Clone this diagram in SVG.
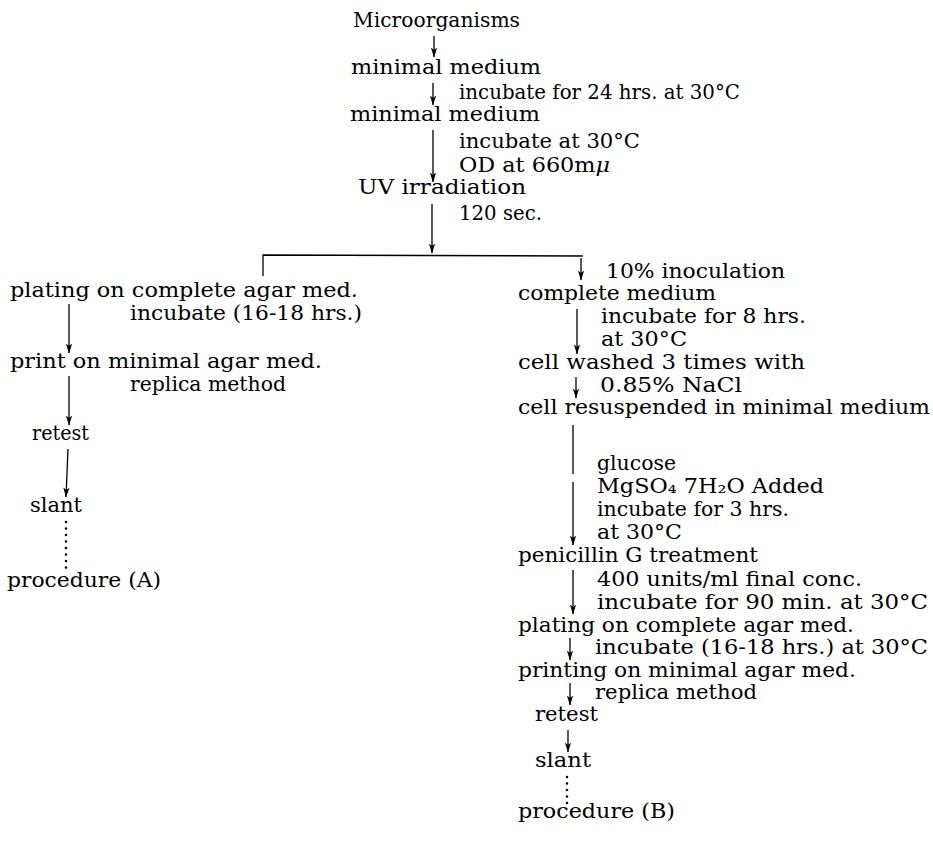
<svg xmlns="http://www.w3.org/2000/svg" width="933" height="845" viewBox="0 0 933 845">
<defs>
<marker id="ah" viewBox="0 0 10 8" refX="9.5" refY="4" markerWidth="10" markerHeight="8" markerUnits="userSpaceOnUse" orient="auto">
<path d="M0,0.9 L10,4 L0,7.1 L2.5,4 Z" fill="#000"/>
</marker>
<style>
text{font-family:"DejaVu Serif","Liberation Serif",serif;font-size:21px;fill:#000}
.ln{stroke:#000;stroke-width:1.3;fill:none}
.arr{stroke:#000;stroke-width:1.3;fill:none;marker-end:url(#ah)}
.dot{stroke:#000;stroke-width:2.6;stroke-linecap:round;stroke-dasharray:0 6.5;fill:none}
</style>
</defs>
<rect width="933" height="845" fill="#fff"/>
<g id="connectors">
<line class="arr" x1="434" y1="36" x2="434" y2="57"/>
<line class="arr" x1="433" y1="83" x2="433" y2="105"/>
<line class="arr" x1="433" y1="130" x2="433" y2="182"/>
<line class="arr" x1="432" y1="204" x2="432" y2="253"/>
<polyline class="ln" points="263,276 263,255 583,256"/>
<line class="arr" x1="581" y1="258" x2="581" y2="280"/>
<line class="arr" x1="69" y1="304" x2="69" y2="353"/>
<line class="arr" x1="69" y1="376" x2="69" y2="425"/>
<line class="arr" x1="68" y1="449" x2="66" y2="497"/>
<line class="dot" x1="66" y1="522" x2="66" y2="570"/>
<line class="arr" x1="577" y1="309" x2="577" y2="354"/>
<line class="arr" x1="576" y1="377" x2="576" y2="398"/>
<line class="ln" x1="573" y1="425" x2="573" y2="474"/>
<line class="arr" x1="573" y1="482" x2="573" y2="545"/>
<line class="arr" x1="573" y1="570" x2="573" y2="614"/>
<line class="arr" x1="570" y1="638" x2="570" y2="660"/>
<line class="arr" x1="570" y1="683" x2="570" y2="705"/>
<line class="arr" x1="568" y1="730" x2="568" y2="752"/>
<line class="dot" x1="567" y1="777" x2="567" y2="804"/>
</g>
<g id="n-microorganisms"><text x="353" y="27" textLength="167" lengthAdjust="spacingAndGlyphs">Microorganisms</text></g>
<g id="n-minimal1"><text x="351" y="74" textLength="190" lengthAdjust="spacingAndGlyphs">minimal  medium</text></g>
<g id="l-incubate24"><text x="459" y="99" textLength="281" lengthAdjust="spacingAndGlyphs">incubate for 24 hrs. at 30°C</text></g>
<g id="n-minimal2"><text x="350" y="121" textLength="190" lengthAdjust="spacingAndGlyphs">minimal  medium</text></g>
<g id="l-od"><text x="459" y="148" textLength="181" lengthAdjust="spacingAndGlyphs">incubate at 30°C</text>
<text x="459" y="172" textLength="151" lengthAdjust="spacingAndGlyphs">OD at 660m<tspan font-style="italic">μ</tspan></text></g>
<g id="n-uv"><text x="358" y="194" textLength="168" lengthAdjust="spacingAndGlyphs">UV  irradiation</text></g>
<g id="l-120"><text x="459" y="220" textLength="83" lengthAdjust="spacingAndGlyphs">120  sec.</text></g>
<g id="a-plating"><text x="10" y="297" textLength="348" lengthAdjust="spacingAndGlyphs">plating on complete agar  med.</text>
<text x="130" y="320" textLength="232" lengthAdjust="spacingAndGlyphs">incubate (16-18 hrs.)</text></g>
<g id="a-print"><text x="10" y="368" textLength="312" lengthAdjust="spacingAndGlyphs">print on minimal agar med.</text>
<text x="130" y="391" textLength="156" lengthAdjust="spacingAndGlyphs">replica  method</text></g>
<g id="a-retest"><text x="32" y="440" textLength="57" lengthAdjust="spacingAndGlyphs">retest</text></g>
<g id="a-slant"><text x="30" y="512" textLength="52" lengthAdjust="spacingAndGlyphs">slant</text></g>
<g id="a-procedure"><text x="7" y="587" textLength="154" lengthAdjust="spacingAndGlyphs">procedure (A)</text></g>
<g id="l-inoc"><text x="606" y="278" textLength="179" lengthAdjust="spacingAndGlyphs">10%  inoculation</text></g>
<g id="b-complete"><text x="518" y="300" textLength="198" lengthAdjust="spacingAndGlyphs">complete  medium</text></g>
<g id="l-inc8"><text x="601" y="323" textLength="205" lengthAdjust="spacingAndGlyphs">incubate for 8 hrs.</text>
<text x="601" y="346" textLength="86" lengthAdjust="spacingAndGlyphs">at 30°C</text></g>
<g id="b-washed"><text x="518" y="369" textLength="287" lengthAdjust="spacingAndGlyphs">cell washed 3  times with</text></g>
<g id="l-nacl"><text x="600" y="392" textLength="142" lengthAdjust="spacingAndGlyphs">0.85%  NaCl</text></g>
<g id="b-resusp"><text x="518" y="414" textLength="412" lengthAdjust="spacingAndGlyphs">cell resuspended in minimal  medium</text></g>
<g id="l-glucose"><text x="597" y="470" textLength="79" lengthAdjust="spacingAndGlyphs">glucose</text>
<text x="597" y="493" textLength="227" lengthAdjust="spacingAndGlyphs">MgSO₄ 7H₂O  Added</text>
<text x="597" y="516" textLength="192" lengthAdjust="spacingAndGlyphs">incubate  for 3 hrs.</text>
<text x="597" y="539" textLength="85" lengthAdjust="spacingAndGlyphs">at 30°C</text></g>
<g id="b-penicillin"><text x="518" y="562" textLength="240" lengthAdjust="spacingAndGlyphs">penicillin  G treatment</text></g>
<g id="l-400"><text x="597" y="586" textLength="265" lengthAdjust="spacingAndGlyphs">400 units/ml final conc.</text>
<text x="597" y="609" textLength="331" lengthAdjust="spacingAndGlyphs">incubate for 90  min. at 30°C</text></g>
<g id="b-plating"><text x="518" y="632" textLength="336" lengthAdjust="spacingAndGlyphs">plating  on  complete agar med.</text></g>
<g id="l-inc1618"><text x="595" y="654" textLength="333" lengthAdjust="spacingAndGlyphs">incubate (16-18 hrs.) at 30°C</text></g>
<g id="b-printing"><text x="518" y="677" textLength="338" lengthAdjust="spacingAndGlyphs">printing on minimal agar med.</text></g>
<g id="l-replica"><text x="595" y="699" textLength="162" lengthAdjust="spacingAndGlyphs">replica method</text></g>
<g id="b-retest"><text x="535" y="721" textLength="63" lengthAdjust="spacingAndGlyphs">retest</text></g>
<g id="b-slant"><text x="535" y="767" textLength="56" lengthAdjust="spacingAndGlyphs">slant</text></g>
<g id="b-procedure"><text x="518" y="818" textLength="157" lengthAdjust="spacingAndGlyphs">procedure (B)</text></g>
</svg>
